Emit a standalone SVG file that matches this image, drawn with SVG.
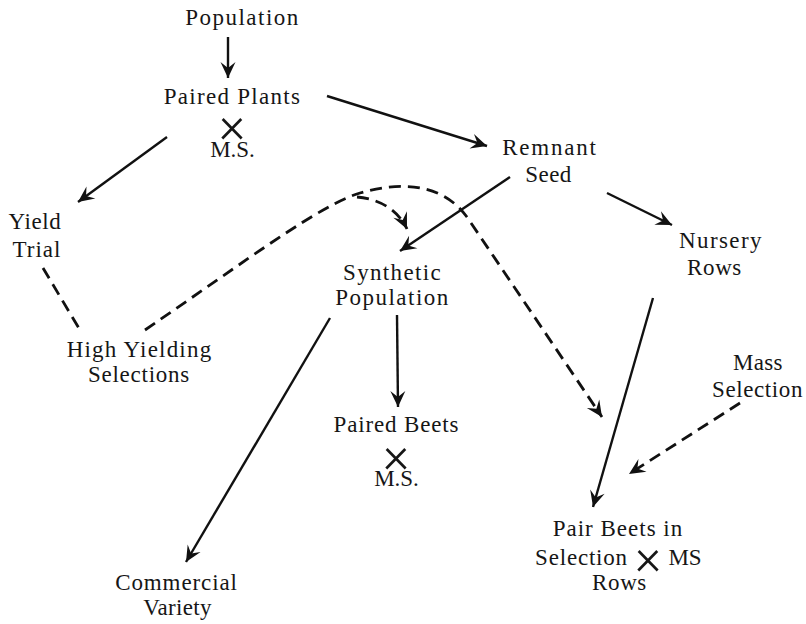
<svg xmlns="http://www.w3.org/2000/svg" width="806" height="624" viewBox="0 0 806 624">
<style>
text{font-family:"Liberation Serif","Times New Roman",serif;font-size:23px;fill:#161616;text-anchor:middle}
.x{font-family:Roboto,"Liberation Sans",sans-serif;font-size:50px;font-weight:300}
.c{fill:none;stroke:#111;stroke-width:2.4}
.d{fill:none;stroke:#111;stroke-width:2.8;stroke-dasharray:12 7}
</style>
<defs>
<marker id="ah" markerUnits="userSpaceOnUse" markerWidth="22" markerHeight="22" viewBox="-18 -11 22 22" refX="0" refY="0" orient="auto">
<path d="M0,0 L-16,-7.5 L-10,0 L-16,7.5 Z" fill="#111"/>
</marker>
</defs>
<rect width="806" height="624" fill="#fff"/>
<g id="connectors">
<path class="c" d="M228,37 L228,78" marker-end="url(#ah)"/>
<path class="c" d="M327,96 L487,146" marker-end="url(#ah)"/>
<path class="c" d="M167,137 L78,202" marker-end="url(#ah)"/>
<path class="c" d="M510,177 L400,251" marker-end="url(#ah)"/>
<path class="c" d="M607,193 L672,225" marker-end="url(#ah)"/>
<path class="c" d="M397,315 L398,407" marker-end="url(#ah)"/>
<path class="c" d="M330,318 L186,562" marker-end="url(#ah)"/>
<path class="c" d="M653,298 L593,507" marker-end="url(#ah)"/>
<path class="d" d="M43,268 L80,330"/>
<path class="d" d="M145,330 C250,258 320,205 360,193 C395,183 440,180 467,217 L602,417" marker-end="url(#ah)"/>
<path class="d" d="M357,197 C380,199 398,210 407,229" marker-end="url(#ah)"/>
<path class="d" d="M740,403 L629,474" marker-end="url(#ah)"/>
</g>
<g id="population"><text x="242.5" y="25" style="letter-spacing:1.5px">Population</text></g>
<g id="paired-plants">
<text><tspan x="232.5" y="104" style="letter-spacing:1.3px">Paired  Plants</tspan><tspan class="x" x="232" y="141.5">×</tspan><tspan x="232.5" y="157">M.S.</tspan></text>
</g>
<g id="remnant-seed">
<text><tspan x="550" y="155" style="letter-spacing:1.8px">Remnant</tspan><tspan x="548.5" y="182" style="letter-spacing:0.5px">Seed</tspan></text>
</g>
<g id="yield-trial">
<text><tspan x="35" y="229" style="letter-spacing:0.6px">Yield</tspan><tspan x="37" y="257" style="letter-spacing:1px">Trial</tspan></text>
</g>
<g id="high-yielding">
<text><tspan x="139.5" y="357" style="letter-spacing:1.2px">High  Yielding</tspan><tspan x="139" y="382" style="letter-spacing:0.75px">Selections</tspan></text>
</g>
<g id="synthetic">
<text><tspan x="392.5" y="280" style="letter-spacing:1.35px">Synthetic</tspan><tspan x="392.5" y="305" style="letter-spacing:1.5px">Population</tspan></text>
</g>
<g id="nursery">
<text><tspan x="721" y="248" style="letter-spacing:1.4px">Nursery</tspan><tspan x="714.5" y="275" style="letter-spacing:0.6px">Rows</tspan></text>
</g>
<g id="paired-beets">
<text><tspan x="396.5" y="432" style="letter-spacing:0.85px">Paired  Beets</tspan><tspan class="x" x="396" y="471.5">×</tspan><tspan x="396.5" y="486">M.S.</tspan></text>
</g>
<g id="mass-selection">
<text><tspan x="758" y="370" style="letter-spacing:0.3px">Mass</tspan><tspan x="757.5" y="397" style="letter-spacing:0.6px">Selection</tspan></text>
</g>
<g id="pair-beets">
<text><tspan x="618" y="536" style="letter-spacing:1px">Pair Beets in</tspan><tspan x="581.5" y="565" style="letter-spacing:0.8px">Selection</tspan><tspan class="x" x="648" y="574">×</tspan><tspan x="685" y="565">MS</tspan><tspan x="619.5" y="590" style="letter-spacing:0.6px">Rows</tspan></text>
</g>
<g id="commercial">
<text><tspan x="176.5" y="590" style="letter-spacing:0.9px">Commercial</tspan><tspan x="177.5" y="615" style="letter-spacing:0.3px">Variety</tspan></text>
</g>
</svg>
